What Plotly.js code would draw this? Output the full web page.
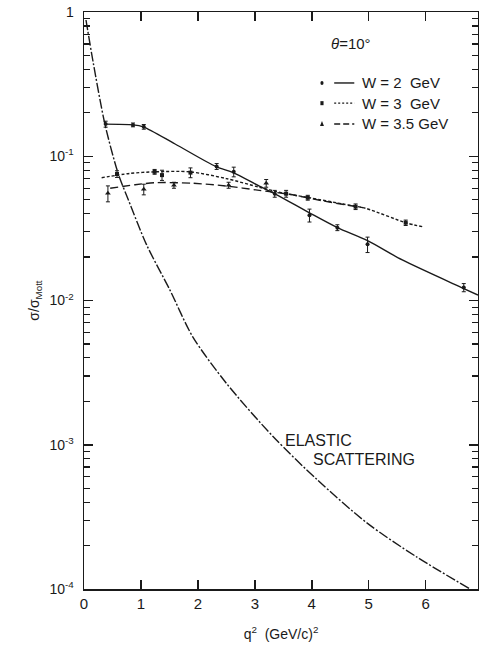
<!DOCTYPE html>
<html>
<head>
<meta charset="utf-8">
<script src="https://cdn.plot.ly/plotly-3.0.1.min.js"></script>
<style>html,body{margin:0;padding:0;background:#fff;}#chart{width:479px;height:646px;}</style>
</head>
<body>
<div id="chart"></div>
<script>
// ---- data (q^2 in (GeV/c)^2, sigma/sigma_Mott) ----
const w2PtsQ2   = [0.38, 0.86, 1.05, 2.33, 2.63, 3.35, 3.96, 4.45, 4.98, 6.67];
const w2PtsVal  = [0.167, 0.165, 0.160, 0.085, 0.078, 0.055, 0.039, 0.032, 0.0245, 0.0123];
const w2PtsErr  = [0.008, 0.005, 0.006, 0.004, 0.006, 0.003, 0.004, 0.0015, 0.003, 0.0008];

const w3PtsQ2   = [0.58, 1.24, 1.37, 1.87, 3.55, 3.93, 4.77, 5.65];
const w3PtsVal  = [0.0753, 0.078, 0.074, 0.077, 0.055, 0.0516, 0.0447, 0.0346];
const w3PtsErr  = [0.004, 0.003, 0.006, 0.006, 0.003, 0.002, 0.002, 0.0015];

const w35PtsQ2  = [0.42, 1.05, 1.58, 2.54, 3.2];
const w35PtsVal = [0.0553, 0.059, 0.063, 0.063, 0.065];
const w35PtsErr = [0.007, 0.005, 0.003, 0.003, 0.004];

const w2CurveQ2   = [0.37, 0.86, 1.04, 1.6, 2.32, 2.62, 3.08, 3.37, 3.96, 4.45, 4.98, 5.59, 6.67, 6.92];
const w2CurveVal  = [0.167, 0.165, 0.16, 0.1216, 0.0847, 0.077, 0.062, 0.0545, 0.0405, 0.032, 0.026, 0.0191, 0.0121, 0.0109];

const w3CurveQ2   = [0.31, 0.8, 1.24, 1.86, 2.5, 3.08, 3.5, 3.96, 4.54, 4.95, 5.65, 5.94];
const w3CurveVal  = [0.071, 0.076, 0.078, 0.078, 0.070, 0.061, 0.0555, 0.0516, 0.0467, 0.0435, 0.0346, 0.0325];

const w35CurveQ2  = [0.46, 0.9, 1.27, 1.9, 2.5, 3.08, 3.6, 4.2, 4.9];
const w35CurveVal = [0.060, 0.0635, 0.0656, 0.065, 0.0622, 0.058, 0.0545, 0.049, 0.044];

const elasticQ2   = [0.035, 0.16, 0.37, 0.6, 0.78, 1.1, 1.51, 1.91, 2.5, 3.32, 4.1, 4.98, 5.83, 6.78];
const elasticVal  = [0.88, 0.45, 0.165, 0.076, 0.0497, 0.0243, 0.0118, 0.0056, 0.00267, 0.00114, 0.00057, 0.000285, 0.000168, 0.0001];

const yTickVals = [1e-4, 1e-3, 1e-2, 1e-1, 1];
const yTickText = ["10<sup>-4</sup>", "10<sup>-3</sup>", "10<sup>-2</sup>", "10<sup>-1</sup>", "1"];
const yMinorTickVals = [
  2e-4, 3e-4, 4e-4, 5e-4, 6e-4, 7e-4, 8e-4, 9e-4,
  2e-3, 3e-3, 4e-3, 5e-3, 6e-3, 7e-3, 8e-3, 9e-3,
  2e-2, 3e-2, 4e-2, 5e-2, 6e-2, 7e-2, 8e-2, 9e-2,
  0.2, 0.3, 0.4, 0.5, 0.6, 0.7, 0.8, 0.9
];
const xTickVals = [0, 1, 2, 3, 4, 5, 6];
const xTickText = ["0", "1", "2", "3", "4", "5", "6"];
const legendLabels = ["W = 2  GeV", "W = 3  GeV", "W = 3.5 GeV"];

// ---- styles ----
const INK = '#1a1a1a';
const FONT = 'Liberation Sans, Arial, sans-serif';

function curve(x, y, dash) {
  return {x: x, y: y, mode: 'lines', type: 'scatter', line: {color: INK, width: 1.4, dash: dash, shape: 'spline', smoothing: 0.8}, hoverinfo: 'skip', showlegend: false};
}
function pts(x, y, e, sym, size) {
  return {x: x, y: y, mode: 'markers', type: 'scatter',
    marker: {color: INK, symbol: sym, size: size},
    error_y: {type: 'data', array: e, visible: true, color: INK, thickness: 1, width: 2},
    hoverinfo: 'skip', showlegend: false};
}

const traces = [
  curve(elasticQ2, elasticVal, '10px,2px,2px,2px'),
  curve(w2CurveQ2, w2CurveVal, 'solid'),
  curve(w3CurveQ2, w3CurveVal, '3px,2px'),
  curve(w35CurveQ2, w35CurveVal, '8px,4px'),
  pts(w2PtsQ2, w2PtsVal, w2PtsErr, 'circle', 4),
  pts(w3PtsQ2, w3PtsVal, w3PtsErr, 'square', 4),
  pts(w35PtsQ2, w35PtsVal, w35PtsErr, 'triangle-up', 5),
  // empty traces so the extra tick axes are drawn
  {x: [], y: [], type: 'scatter', mode: 'lines', yaxis: 'y2', showlegend: false, hoverinfo: 'skip'},
  {x: [], y: [], type: 'scatter', mode: 'lines', yaxis: 'y3', showlegend: false, hoverinfo: 'skip'},
  {x: [], y: [], type: 'scatter', mode: 'lines', xaxis: 'x2', showlegend: false, hoverinfo: 'skip'}
];

const shapes = [];
const annotations = [];

// legend drawn in paper coordinates
const rowY = [0.877, 0.842, 0.806];
rowY.forEach((yy, i) => {
  shapes.push({type: 'line', xref: 'paper', yref: 'paper', x0: 0.635, x1: 0.686, y0: yy, y1: yy,
    line: {color: INK, width: 1.4, dash: i === 0 ? 'solid' : (i === 1 ? '2px,2px' : '6px,3px')}});
  annotations.push({xref: 'paper', yref: 'paper', x: 0.701, y: yy, xanchor: 'left', yanchor: 'middle',
    text: legendLabels[i], showarrow: false, font: {family: FONT, size: 15, color: INK}});
});
shapes.push({type: 'circle', xref: 'paper', yref: 'paper', x0: 0.6, x1: 0.608, y0: rowY[0] - 0.0035, y1: rowY[0] + 0.0035, fillcolor: INK, line: {width: 0}});
shapes.push({type: 'rect', xref: 'paper', yref: 'paper', x0: 0.6, x1: 0.608, y0: rowY[1] - 0.0035, y1: rowY[1] + 0.0035, fillcolor: INK, line: {width: 0}});
shapes.push({type: 'path', xref: 'paper', yref: 'paper', path: 'M 0.599 0.8025 L 0.609 0.8025 L 0.604 0.811 Z', fillcolor: INK, line: {width: 0}});

annotations.push({xref: 'paper', yref: 'paper', x: 0.623, y: 0.946, xanchor: 'left', yanchor: 'middle',
  text: '<i>θ</i>=10°', showarrow: false, font: {family: FONT, size: 15, color: INK}});
annotations.push({xref: 'paper', yref: 'paper', x: 0.504, y: 0.258, xanchor: 'left', yanchor: 'middle',
  text: 'ELASTIC', showarrow: false, font: {family: FONT, size: 16, color: INK}});
annotations.push({xref: 'paper', yref: 'paper', x: 0.577, y: 0.224, xanchor: 'left', yanchor: 'middle',
  text: 'SCATTERING', showarrow: false, font: {family: FONT, size: 16, color: INK}});

const minorAxis = (side) => ({
  type: 'log', range: [-4, 0], overlaying: 'y', side: side, anchor: 'x',
  tickmode: 'array', tickvals: yMinorTickVals, showticklabels: false,
  ticks: 'inside', ticklen: 6, tickwidth: 1.2, tickcolor: INK,
  showgrid: false, zeroline: false
});

const layout = {
  width: 479, height: 646,
  margin: {l: 84, r: 1, t: 12, b: 57},
  paper_bgcolor: '#ffffff', plot_bgcolor: '#ffffff',
  showlegend: false,
  font: {family: FONT, color: INK, size: 14},
  xaxis: {
    range: [0, 6.92], tickvals: xTickVals, ticktext: xTickText,
    ticks: 'inside', ticklen: 9, tickwidth: 1.5, tickcolor: INK,
    showline: true, linecolor: INK, linewidth: 1.5, mirror: 'ticks',
    showgrid: false, zeroline: false,
    tickfont: {family: FONT, size: 15, color: INK},
    title: {text: 'q<sup>2</sup>  (GeV/c)<sup>2</sup>', font: {family: FONT, size: 14, color: INK}, standoff: 18}
  },
  xaxis2: {
    range: [0, 6.92], overlaying: 'x', side: 'bottom', anchor: 'y',
    tickmode: 'array', tickvals: xTickVals, showticklabels: false,
    ticks: 'inside', ticklen: 9, tickwidth: 1.5, tickcolor: INK,
    showgrid: false, zeroline: false
  },
  yaxis: {
    type: 'log', range: [-4, 0], tickvals: yTickVals, ticktext: yTickText,
    ticks: 'inside', ticklen: 9, tickwidth: 1.5, tickcolor: INK,
    showline: true, linecolor: INK, linewidth: 1.5, mirror: 'ticks',
    showgrid: false, zeroline: false,
    ticklabelstandoff: 6,
    tickfont: {family: FONT, size: 14, color: INK},
    title: {text: 'σ/σ<sub>Mott</sub>', font: {family: FONT, size: 14, color: INK}, standoff: 6}
  },
  yaxis2: minorAxis('left'),
  yaxis3: minorAxis('right'),
  shapes: shapes,
  annotations: annotations
};

Plotly.newPlot('chart', traces, layout, {staticPlot: true, displayModeBar: false});
</script>
</body>
</html>
